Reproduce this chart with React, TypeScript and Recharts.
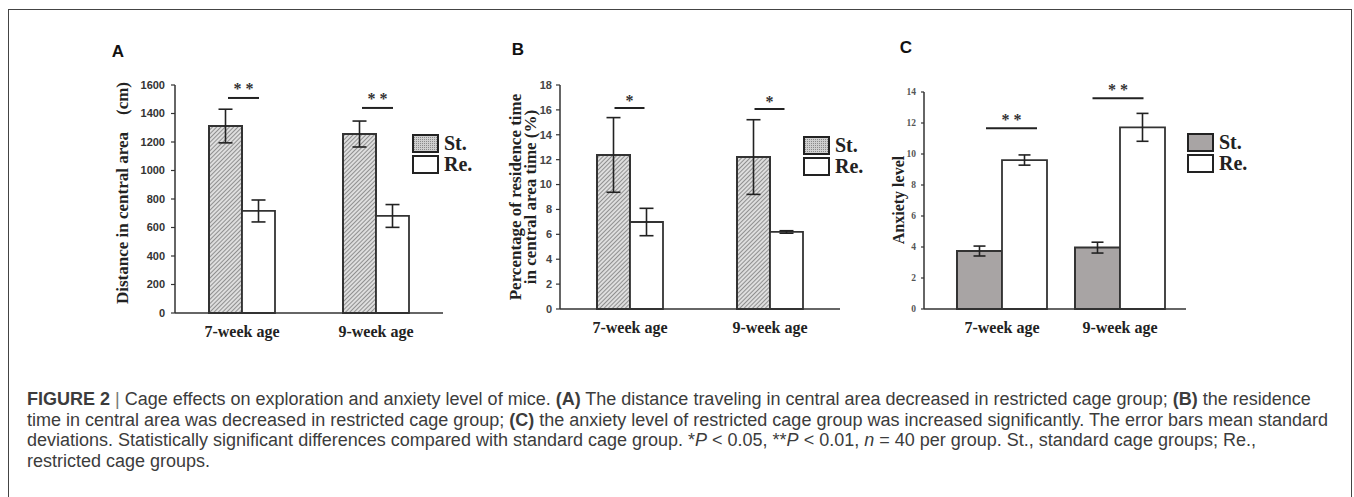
import React from 'react';
import { ComposedChart, Bar, Line, XAxis, YAxis, ErrorBar, Legend } from 'recharts';

// ---------- data ----------
const categories = ['7-week age', '9-week age'];
const legendLabels = ['St.', 'Re.'];

// Panel A: distance in central area (cm)
const distSt = [1312, 1256];
const distStErr = [118, 91];
const distRe = [716, 681];
const distReErr = [77, 80];
const distSig = [1509, 1439];
const distSigText = ['* *', '* *'];
const distTicks = [0, 200, 400, 600, 800, 1000, 1200, 1400, 1600];

// Panel B: percentage of residence time in central area (%)
const pctSt = [12.38, 12.21];
const pctStErr = [3.0, 3.0];
const pctRe = [6.99, 6.19];
const pctReErr = [1.1, 0.1];
const pctSig = [16.15, 16.07];
const pctSigText = ['*', '*'];
const pctTicks = [0, 2, 4, 6, 8, 10, 12, 14, 16, 18];

// Panel C: anxiety level
const anxSt = [3.74, 3.96];
const anxStErr = [0.32, 0.35];
const anxRe = [9.61, 11.72];
const anxReErr = [0.33, 0.9];
const anxSig = [11.66, 13.59];
const anxSigText = ['* *', '* *'];
const anxTicks = [0, 2, 4, 6, 8, 10, 12, 14];

const build = (st: number[], stErr: number[], re: number[], reErr: number[], sig: number[], sigText: string[]) =>
  categories.map((cat, i) => ({ cat, st: st[i], stErr: stErr[i], re: re[i], reErr: reErr[i], sig: sig[i], sigText: sigText[i] }));

const dataA = build(distSt, distStErr, distRe, distReErr, distSig, distSigText);
const dataB = build(pctSt, pctStErr, pctRe, pctReErr, pctSig, pctSigText);
const dataC = build(anxSt, anxStErr, anxRe, anxReErr, anxSig, anxSigText);

const SERIF = '"Liberation Serif", "Times New Roman", serif';
const SANS = '"Liberation Sans", Arial, sans-serif';

const makeSigDot = (halfW: number, dxs: number[], gap: number, fontSize: number) => (props: any) => {
  const { cx, cy, payload, index } = props;
  if (cx == null || cy == null) return <g key={`sig-${index}`} />;
  const x = cx + dxs[index];
  return (
    <g key={`sig-${index}`}>
      <line x1={x - halfW} x2={x + halfW} y1={cy} y2={cy} stroke="#222" strokeWidth={2} />
      <text x={x} y={cy - gap} textAnchor="middle" fontFamily={SERIF} fontWeight="bold" fontSize={fontSize} fill="#333">
        {payload.sigText}
      </text>
    </g>
  );
};

const LegendBox = ({ stipple, stFill, id }: { stipple: boolean; stFill: string; id: string }) => (
  <div style={{ display: 'flex', flexDirection: 'column' }}>
    {legendLabels.map((lab, i) => (
      <div key={lab} style={{ display: 'flex', alignItems: 'center', height: 21 }}>
        <svg width={27} height={21} style={{ display: 'block' }}>
          <defs>
            <pattern id={id} patternUnits="userSpaceOnUse" width={2} height={2}>
              <rect width={2} height={2} fill="#cfcfcf" />
              <rect width={1} height={1} fill="#8a8a8a" />
            </pattern>
          </defs>
          <rect x={1} y={2} width={25} height={17} fill={i === 0 ? (stipple ? `url(#${id})` : stFill) : '#fff'} stroke="#222" strokeWidth={2} />
        </svg>
        <span style={{ marginLeft: 5, fontFamily: SERIF, fontWeight: 'bold', fontSize: 20, color: '#222', lineHeight: '21px' }}>{lab}</span>
      </div>
    ))}
  </div>
);

type PanelProps = {
  data: any[];
  left: number; top: number; width: number; height: number;
  margin: { top: number; right: number; bottom: number; left: number };
  yWidth: number;
  domain: [number, number];
  ticks: number[];
  tickFont: any;
  tickSize: number; tickMargin: number;
  barSize: number;
  stFill: string;
  hatch: boolean;
  id: string;
  xPadding: { left: number; right: number };
  sigHalfW: number; sigDx: number[]; sigGap: number;
  capW: number;
  legendPos: { left: number; top: number };
  yLabel: (p: any) => React.ReactNode;
};

const Panel = (p: PanelProps) => (
  <div style={{ position: 'absolute', left: p.left, top: p.top }}>
    <ComposedChart width={p.width} height={p.height} data={p.data} margin={p.margin} barGap={0}>
      <defs>
        <pattern id={`hatch-${p.id}`} patternUnits="userSpaceOnUse" width={3} height={3} patternTransform="rotate(45)">
          <rect width={3} height={3} fill="#dedede" />
          <line x1={0} y1={0} x2={0} y2={3} stroke="#666" strokeWidth={1.3} />
        </pattern>
      </defs>
      <XAxis
        dataKey="cat"
        height={30}
        padding={p.xPadding}
        tickSize={0}
        tickMargin={13}
        axisLine={{ stroke: '#333', strokeWidth: 1.5 }}
        tick={{ fontFamily: SERIF, fontWeight: 'bold', fontSize: 16, fill: '#222' }}
      />
      <YAxis
        width={p.yWidth}
        domain={p.domain}
        ticks={p.ticks}
        interval={0}
        tickSize={p.tickSize}
        tickMargin={p.tickMargin}
        axisLine={{ stroke: '#333', strokeWidth: 1.5 }}
        tickLine={{ stroke: '#333', strokeWidth: 1.2 }}
        tick={p.tickFont}
        label={p.yLabel}
      />
      <Bar dataKey="st" barSize={p.barSize} fill={p.hatch ? `url(#hatch-${p.id})` : p.stFill} stroke="#333" strokeWidth={2} isAnimationActive={false}>
        <ErrorBar dataKey="stErr" width={p.capW} stroke="#222" strokeWidth={1.6} />
      </Bar>
      <Bar dataKey="re" barSize={p.barSize} fill="#ffffff" stroke="#333" strokeWidth={1.8} isAnimationActive={false}>
        <ErrorBar dataKey="reErr" width={p.capW} stroke="#222" strokeWidth={1.6} />
      </Bar>
      <Line
        dataKey="sig"
        stroke="none"
        legendType="none"
        activeDot={false}
        isAnimationActive={false}
        dot={makeSigDot(p.sigHalfW, p.sigDx, p.sigGap, 16)}
      />
      <Legend
        layout="horizontal"
        align="center"
        verticalAlign="middle"
        wrapperStyle={{ left: p.legendPos.left, top: p.legendPos.top, width: 'auto' }}
        content={() => <LegendBox stipple={p.hatch} stFill={p.stFill} id={`stip-${p.id}`} />}
      />
    </ComposedChart>
  </div>
);

const vText = (x: number, y: number, text: string, size: number, key?: string) => (
  <text
    key={key}
    x={x}
    y={y}
    transform={`rotate(-90, ${x}, ${y})`}
    textAnchor="middle"
    dominantBaseline="central"
    fontFamily={SERIF}
    fontWeight="bold"
    fontSize={size}
    fill="#222"
    style={{ whiteSpace: 'pre' }}
  >
    {text}
  </text>
);

const letterStyle: React.CSSProperties = {
  position: 'absolute',
  fontFamily: SANS,
  fontWeight: 'bold',
  fontSize: 17,
  color: '#111',
  transform: 'translate(-50%, -50%)',
  lineHeight: 1,
};

export default function App() {
  return (
    <div style={{ position: 'fixed', left: 0, top: 0, width: 1354, height: 497, overflow: 'hidden', background: '#fff' }}>
      <div style={{ position: 'absolute', left: 8, top: 9, width: 1342, height: 520, border: '1px solid #444' }} />

      <div style={{ ...letterStyle, left: 118, top: 51 }}>A</div>
      <div style={{ ...letterStyle, left: 518, top: 49 }}>B</div>
      <div style={{ ...letterStyle, left: 906, top: 47 }}>C</div>

      <Panel
        id="a"
        data={dataA}
        left={60} top={20} width={420} height={330}
        margin={{ top: 65, right: 37, bottom: 7, left: 55 }}
        yWidth={60}
        domain={[0, 1600]}
        ticks={distTicks}
        tickFont={{ fontFamily: SANS, fontWeight: 'bold', fontSize: 11, fill: '#333' }}
        tickSize={4} tickMargin={6}
        barSize={33}
        stFill="#cccccc"
        hatch={true}
        xPadding={{ left: 0, right: 0 }}
        sigHalfW={15.5} sigDx={[1.5, 1.5]} sigGap={4}
        capW={7}
        legendPos={{ left: 352, top: 113 }}
        yLabel={() => vText(62, 173, 'Distance in central area\u00a0\u00a0\u00a0\u00a0(cm)', 17)}
      />

      <Panel
        id="b"
        data={dataB}
        left={480} top={20} width={420} height={330}
        margin={{ top: 65, right: 60, bottom: 11, left: 20 }}
        yWidth={60}
        domain={[0, 18]}
        ticks={pctTicks}
        tickFont={{ fontFamily: SANS, fontWeight: 'bold', fontSize: 11, fill: '#444' }}
        tickSize={4} tickMargin={4}
        barSize={33}
        stFill="#cccccc"
        hatch={true}
        xPadding={{ left: 0, right: 0 }}
        sigHalfW={15} sigDx={[-0.5, -0.5]} sigGap={2}
        capW={7}
        legendPos={{ left: 323, top: 115 }}
        yLabel={() => (
          <g>
            {vText(35, 177, 'Percentage of residence time', 17, 'l1')}
            {vText(50, 177, 'in central area time (%)', 17, 'l2')}
          </g>
        )}
      />

      <Panel
        id="c"
        data={dataC}
        left={880} top={20} width={460} height={330}
        margin={{ top: 72, right: 154, bottom: 11, left: 10 }}
        yWidth={34}
        domain={[0, 14]}
        ticks={anxTicks}
        tickFont={{ fontFamily: SERIF, fontWeight: 'bold', fontSize: 9.5, fill: '#555' }}
        tickSize={3} tickMargin={5}
        barSize={45}
        stFill="#a8a4a4"
        hatch={false}
        xPadding={{ left: 19, right: 7 }}
        sigHalfW={25.5} sigDx={[9.5, -2]} sigGap={3}
        capW={6}
        legendPos={{ left: 307, top: 112 }}
        yLabel={() => vText(18, 180, 'Anxiety level', 16)}
      />

      <div
        style={{
          position: 'absolute',
          left: 27,
          top: 389,
          fontFamily: SANS,
          fontSize: 18,
          lineHeight: '20.6px',
          color: '#3c3c3c',
          whiteSpace: 'nowrap',
        }}
      >
        <div>
          <b>FIGURE 2</b> <span style={{ color: '#777' }}>|</span> Cage effects on exploration and anxiety level of mice. <b>(A)</b> The distance traveling in central area decreased in restricted cage group; <b>(B)</b> the residence
        </div>
        <div>
          time in central area was decreased in restricted cage group; <b>(C)</b> the anxiety level of restricted cage group was increased significantly. The error bars mean standard
        </div>
        <div>
          deviations. Statistically significant differences compared with standard cage group. *<i>P</i> &lt; 0.05, **<i>P</i> &lt; 0.01, <i>n</i> = 40 per group. St., standard cage groups; Re.,
        </div>
        <div>restricted cage groups.</div>
      </div>
    </div>
  );
}
